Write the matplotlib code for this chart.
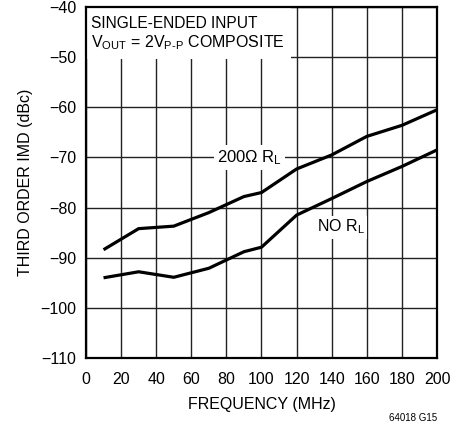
import numpy as np
import matplotlib
matplotlib.use('Agg')
import matplotlib.pyplot as plt
from matplotlib.patches import Rectangle

plt.rcParams['font.family'] = ['Liberation Sans', 'DejaVu Sans']
plt.rcParams['mathtext.fontset'] = 'custom'
plt.rcParams['mathtext.rm'] = 'Liberation Sans'
plt.rcParams['mathtext.it'] = 'Liberation Sans'

##### Data #####
freq = [10, 30, 50, 70, 90, 100, 120, 140, 160, 180, 200]
imd_200 = [-88.4, -84.2, -83.7, -81.0, -77.8, -77.0, -72.3, -69.5, -65.8, -63.6, -60.5]
imd_norl = [-94.0, -92.8, -93.9, -92.1, -88.8, -87.9, -81.5, -78.2, -74.8, -71.8, -68.5]
xticks = [0, 20, 40, 60, 80, 100, 120, 140, 160, 180, 200]
yticks = [-110, -100, -90, -80, -70, -60, -50, -40]
################

fig = plt.figure(figsize=(4.66, 4.25), dpi=100)
ax = fig.add_axes([0.1845, 0.1576, 0.7533, 0.8259])

ax.plot(freq, imd_200, color='black', lw=2.3, zorder=4, solid_capstyle='butt')
ax.plot(freq, imd_norl, color='black', lw=2.3, zorder=4, solid_capstyle='butt')

ax.set_xlim(0, 200)
ax.set_ylim(-110, -40)
ax.set_xticks(xticks)
ax.set_yticks(yticks)
ax.tick_params(length=0, labelsize=11.5)
ax.tick_params(axis='y', pad=7)
ax.tick_params(axis='x', pad=10)
ax.grid(True, color='#222222', lw=1.0)
ax.set_axisbelow(True)
for s in ax.spines.values():
    s.set_linewidth(1.6)
    s.set_zorder(6)

ax.set_xlabel('FREQUENCY (MHz)', fontsize=11.5, labelpad=7)
ax.set_ylabel('THIRD ORDER IMD (dBc)', fontsize=11.5, labelpad=5)

# white box behind the condition text
ax.add_patch(Rectangle((0, -50.3), 117, 10.3, facecolor='white', edgecolor='none', zorder=3))
ax.text(3, -44.2, 'SINGLE-ENDED INPUT', fontsize=11.2, va='baseline', ha='left', zorder=5)
ax.text(3, -48.0, 'V$_{\\mathrm{OUT}}$ = 2V$_{\\mathrm{P\\text{-}P}}$ COMPOSITE',
        fontsize=11.5, va='baseline', ha='left', zorder=5)

ax.text(93, -70, '200Ω R$_{\\mathrm{L}}$', fontsize=12, ha='center', va='center', zorder=5,
        bbox=dict(facecolor='white', edgecolor='none', pad=2))
ax.text(145, -83.9, 'NO R$_{\\mathrm{L}}$', fontsize=11.5, ha='center', va='center', zorder=5,
        bbox=dict(facecolor='white', edgecolor='none', pad=1.5))

fig.text(0.887, 0.016, '64018 G15', fontsize=7, ha='center', va='center')

plt.savefig('out.png', dpi=100)
